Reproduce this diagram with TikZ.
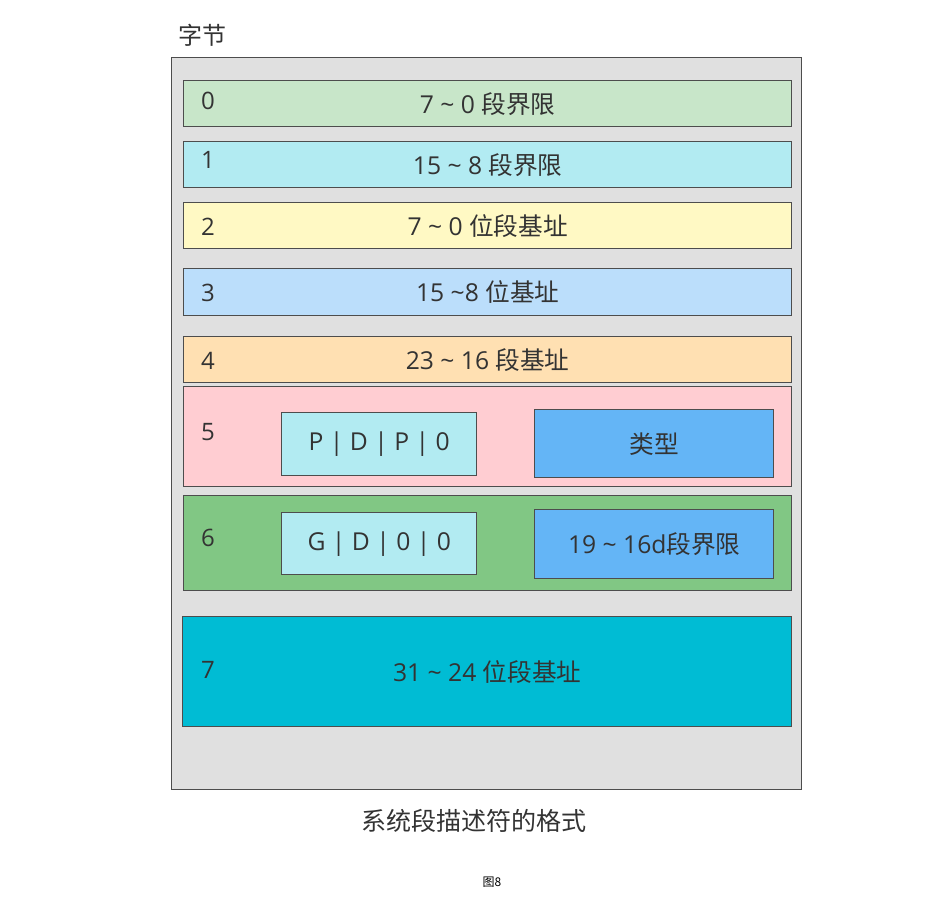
\documentclass[tikz,border=0pt]{standalone}
\usepackage{fontspec}
\setmainfont{Open Sans}
\newfontfamily\cjk{Noto Sans CJK SC}
\usepackage{tikz}
\usetikzlibrary{positioning}
\usepackage{xcolor}
\definecolor{sdframe}{HTML}{E0E0E0}
\definecolor{sdline}{HTML}{4D4D4D}
\definecolor{sdtext}{HTML}{333333}
\definecolor{sdgreen}{HTML}{C8E6C9}
\definecolor{sdcyan}{HTML}{B2EBF2}
\definecolor{sdyellow}{HTML}{FFF9C4}
\definecolor{sdblue}{HTML}{BBDEFB}
\definecolor{sdorange}{HTML}{FFE0B2}
\definecolor{sdpink}{HTML}{FFCDD2}
\definecolor{sdleaf}{HTML}{81C784}
\definecolor{sdteal}{HTML}{00BCD4}
\definecolor{sdsky}{HTML}{64B5F6}

\begin{document}
\begin{tikzpicture}[x=0.75pt, y=-0.75pt,
    field/.style={draw=sdline, line width=1.1pt, anchor=north west, inner sep=0pt,
                  text=sdtext, font=\fontsize{18.5}{20}\selectfont, align=center},
    idx/.style={text=sdtext, font=\fontsize{18}{20}\selectfont, inner sep=0pt}]
  \useasboundingbox (0,0) rectangle (934,903);
  % outer frame and heading
  \node[field, fill=sdframe, minimum width=472.5pt, minimum height=549pt] (frame) at (171,57) {};
  \node[text=sdtext, font=\cjk\fontsize{18}{20}\selectfont, inner sep=0pt] (bytes) at (202,35) {字节};
  % byte rows
  \node[field, fill=sdgreen,  minimum width=456pt, minimum height=34.5pt] (row0) at (183,80)  {7 \textasciitilde{} 0 {\cjk 段界限}};
  \node[field, fill=sdcyan,   minimum width=456pt, minimum height=34.5pt] (row1) at (183,141) {15 \textasciitilde{} 8 {\cjk 段界限}};
  \node[field, fill=sdyellow, minimum width=456pt, minimum height=34.5pt] (row2) at (183,202) {7 \textasciitilde{} 0 {\cjk 位段基址}};
  \node[field, fill=sdblue,   minimum width=456pt, minimum height=35.25pt] (row3) at (183,268) {15 \textasciitilde8 {\cjk 位基址}};
  \node[field, fill=sdorange, minimum width=456pt, minimum height=34.5pt] (row4) at (183,336) {23 \textasciitilde{} 16 {\cjk 段基址}};
  \node[field, fill=sdpink,   minimum width=456pt, minimum height=75pt]   (row5) at (183,386) {};
  \node[field, fill=sdleaf,   minimum width=456pt, minimum height=71.25pt] (row6) at (183,495) {};
  \node[field, fill=sdteal,   minimum width=456.75pt, minimum height=82.5pt] (row7) at (182,616) {31 \textasciitilde{} 24 {\cjk 位段基址}};
  % sub fields of bytes 5 and 6
  \node[field, fill=sdcyan, minimum width=146.25pt, minimum height=47.25pt] (flags5) at (281,412) {P | D | P | 0};
  \node[field, fill=sdsky,  minimum width=179.25pt, minimum height=51pt]    (type5)  at (534,409) {\cjk 类型};
  \node[field, fill=sdcyan, minimum width=146.25pt, minimum height=46.5pt]  (flags6) at (281,512) {G | D | 0 | 0};
  \node[field, fill=sdsky,  minimum width=179.25pt, minimum height=51.75pt] (limit6) at (534,509) {19 \textasciitilde{} 16d{\cjk 段界限}};
  % byte numbers
  \node[idx] (n0) at (208,101) {0};
  \node[idx] (n1) at (208,160) {1};
  \node[idx] (n2) at (208,227) {2};
  \node[idx] (n3) at (208,293) {3};
  \node[idx] (n4) at (208,361) {4};
  \node[idx] (n5) at (208,432) {5};
  \node[idx] (n6) at (208,538) {6};
  \node[idx] (n7) at (208,670) {7};
  % captions
  \node[text=sdtext, font=\cjk\fontsize{18.8}{20}\selectfont, inner sep=0pt] (caption) at (474,821) {系统段描述符的格式};
  \node[font=\cjk\fontsize{9}{10}\selectfont, inner sep=0pt] (fig) at (492,882) {图8};
\end{tikzpicture}
\end{document}
